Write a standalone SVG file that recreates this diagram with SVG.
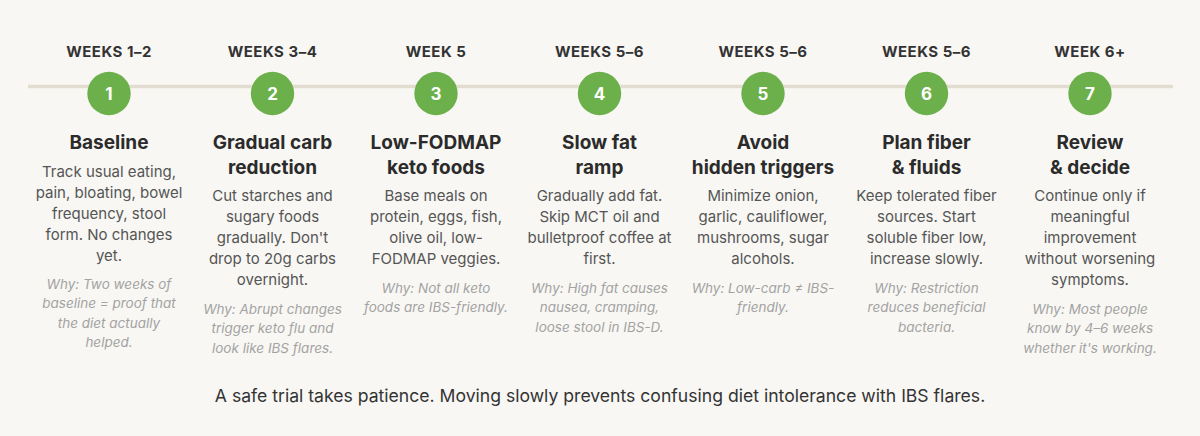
<svg xmlns="http://www.w3.org/2000/svg" width="1200" height="436" viewBox="0 0 1200 436">
<style>
.wk{font-family:Inter,"Noto Sans",sans-serif;font-weight:700;font-size:15px;letter-spacing:0.5px;fill:#333;text-anchor:middle}
.num{font-family:Inter,"Noto Sans",sans-serif;font-weight:700;font-size:17px;fill:#fff;text-anchor:middle}
.ttl{font-family:Inter,"Noto Sans",sans-serif;font-weight:700;font-size:19px;fill:#2b2b2b;text-anchor:middle}
.bd{font-family:Inter,"Noto Sans",sans-serif;font-size:15px;fill:#555;text-anchor:middle}
.why{font-family:Inter,"Noto Sans",sans-serif;font-style:italic;font-size:13.5px;fill:#a3a3a3;text-anchor:middle}
.ft{font-family:Inter,"Noto Sans",sans-serif;font-size:17.6px;fill:#333;text-anchor:middle}
.dot{fill:#6bb04b}
</style>
<rect width="1200" height="436" fill="#f8f7f3"/>
<g id="connectors">
<line x1="28" y1="86.5" x2="1173" y2="86.5" stroke="#e2ddd0" stroke-width="3.5"/>
</g>
<g id="step1">
<text class="wk" x="109" y="57">WEEKS 1–2</text>
<circle class="dot" cx="109" cy="93.5" r="21.7"/>
<text class="num" x="109" y="99.5">1</text>
<text class="ttl" x="109" y="149">Baseline</text>
<text class="bd" x="109" y="177">Track usual eating,</text>
<text class="bd" x="109" y="198">pain, bloating, bowel</text>
<text class="bd" x="109" y="219">frequency, stool</text>
<text class="bd" x="109" y="240">form. No changes</text>
<text class="bd" x="109" y="261">yet.</text>
<text class="why" x="109" y="289">Why: Two weeks of</text>
<text class="why" x="109" y="308">baseline = proof that</text>
<text class="why" x="109" y="328">the diet actually</text>
<text class="why" x="109" y="347">helped.</text>
</g>
<g id="step2">
<text class="wk" x="272.5" y="57">WEEKS 3–4</text>
<circle class="dot" cx="272.5" cy="93.5" r="21.7"/>
<text class="num" x="272.5" y="99.5">2</text>
<text class="ttl" x="272.5" y="149">Gradual carb</text>
<text class="ttl" x="272.5" y="174">reduction</text>
<text class="bd" x="272.5" y="201">Cut starches and</text>
<text class="bd" x="272.5" y="222">sugary foods</text>
<text class="bd" x="272.5" y="243">gradually. Don't</text>
<text class="bd" x="272.5" y="264">drop to 20g carbs</text>
<text class="bd" x="272.5" y="285">overnight.</text>
<text class="why" x="272.5" y="314">Why: Abrupt changes</text>
<text class="why" x="272.5" y="333">trigger keto flu and</text>
<text class="why" x="272.5" y="353">look like IBS flares.</text>
</g>
<g id="step3">
<text class="wk" x="436" y="57">WEEK 5</text>
<circle class="dot" cx="436" cy="93.5" r="21.7"/>
<text class="num" x="436" y="99.5">3</text>
<text class="ttl" x="436" y="149">Low-FODMAP</text>
<text class="ttl" x="436" y="174">keto foods</text>
<text class="bd" x="436" y="201">Base meals on</text>
<text class="bd" x="436" y="222">protein, eggs, fish,</text>
<text class="bd" x="436" y="243">olive oil, low-</text>
<text class="bd" x="436" y="264">FODMAP veggies.</text>
<text class="why" x="436" y="293">Why: Not all keto</text>
<text class="why" x="436" y="312">foods are IBS-friendly.</text>
</g>
<g id="step4">
<text class="wk" x="599.5" y="57">WEEKS 5–6</text>
<circle class="dot" cx="599.5" cy="93.5" r="21.7"/>
<text class="num" x="599.5" y="99.5">4</text>
<text class="ttl" x="599.5" y="149">Slow fat</text>
<text class="ttl" x="599.5" y="174">ramp</text>
<text class="bd" x="599.5" y="201">Gradually add fat.</text>
<text class="bd" x="599.5" y="222">Skip MCT oil and</text>
<text class="bd" x="599.5" y="243">bulletproof coffee at</text>
<text class="bd" x="599.5" y="264">first.</text>
<text class="why" x="599.5" y="293">Why: High fat causes</text>
<text class="why" x="599.5" y="312">nausea, cramping,</text>
<text class="why" x="599.5" y="332">loose stool in IBS-D.</text>
</g>
<g id="step5">
<text class="wk" x="763" y="57">WEEKS 5–6</text>
<circle class="dot" cx="763" cy="93.5" r="21.7"/>
<text class="num" x="763" y="99.5">5</text>
<text class="ttl" x="763" y="149">Avoid</text>
<text class="ttl" x="763" y="174">hidden triggers</text>
<text class="bd" x="763" y="201">Minimize onion,</text>
<text class="bd" x="763" y="222">garlic, cauliflower,</text>
<text class="bd" x="763" y="243">mushrooms, sugar</text>
<text class="bd" x="763" y="264">alcohols.</text>
<text class="why" x="763" y="293">Why: Low-carb ≠ IBS-</text>
<text class="why" x="763" y="312">friendly.</text>
</g>
<g id="step6">
<text class="wk" x="926.5" y="57">WEEKS 5–6</text>
<circle class="dot" cx="926.5" cy="93.5" r="21.7"/>
<text class="num" x="926.5" y="99.5">6</text>
<text class="ttl" x="926.5" y="149">Plan fiber</text>
<text class="ttl" x="926.5" y="174">&amp; fluids</text>
<text class="bd" x="926.5" y="201">Keep tolerated fiber</text>
<text class="bd" x="926.5" y="222">sources. Start</text>
<text class="bd" x="926.5" y="243">soluble fiber low,</text>
<text class="bd" x="926.5" y="264">increase slowly.</text>
<text class="why" x="926.5" y="293">Why: Restriction</text>
<text class="why" x="926.5" y="312">reduces beneficial</text>
<text class="why" x="926.5" y="332">bacteria.</text>
</g>
<g id="step7">
<text class="wk" x="1090" y="57">WEEK 6+</text>
<circle class="dot" cx="1090" cy="93.5" r="21.7"/>
<text class="num" x="1090" y="99.5">7</text>
<text class="ttl" x="1090" y="149">Review</text>
<text class="ttl" x="1090" y="174">&amp; decide</text>
<text class="bd" x="1090" y="201">Continue only if</text>
<text class="bd" x="1090" y="222">meaningful</text>
<text class="bd" x="1090" y="243">improvement</text>
<text class="bd" x="1090" y="264">without worsening</text>
<text class="bd" x="1090" y="285">symptoms.</text>
<text class="why" x="1090" y="314">Why: Most people</text>
<text class="why" x="1090" y="333">know by 4–6 weeks</text>
<text class="why" x="1090" y="353">whether it's working.</text>
</g>
<g id="footer">
<text class="ft" x="600" y="402">A safe trial takes patience. Moving slowly prevents confusing diet intolerance with IBS flares.</text>
</g>
</svg>
